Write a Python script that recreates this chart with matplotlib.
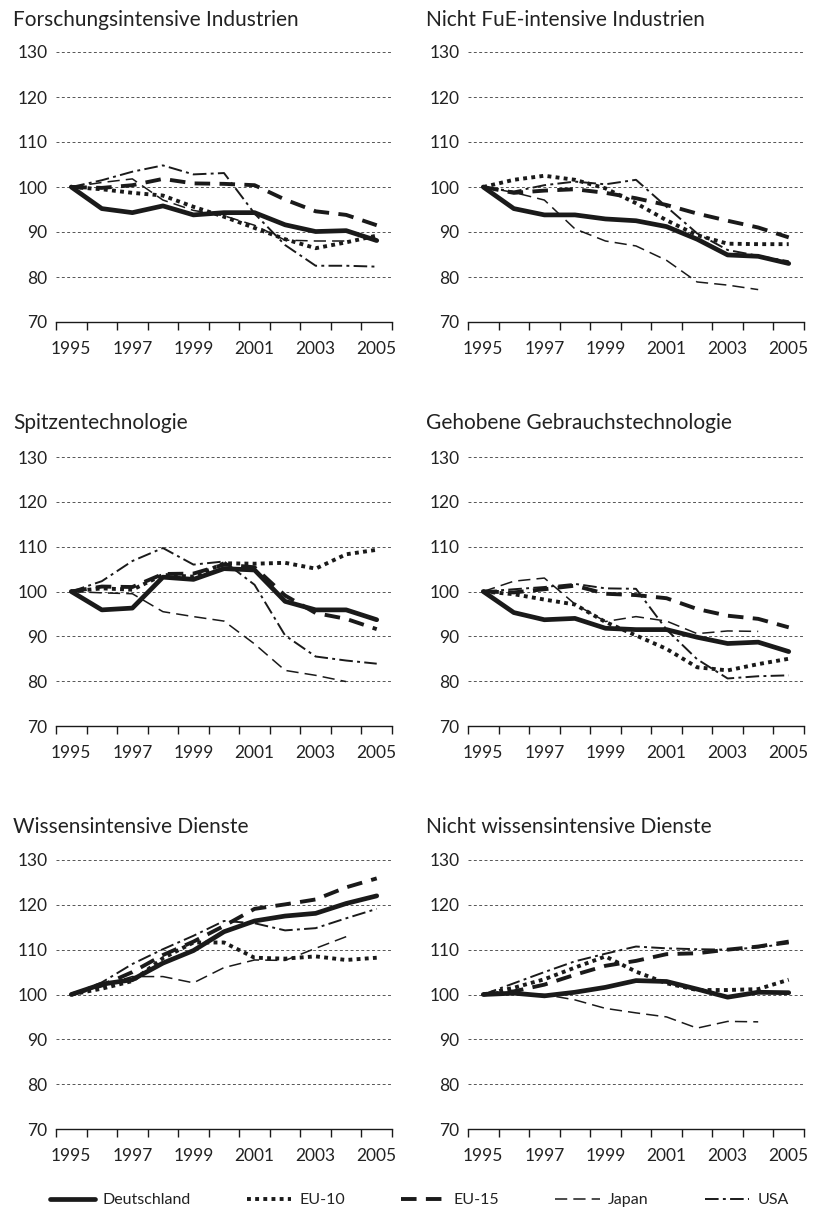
import matplotlib
matplotlib.use('Agg')
import matplotlib.pyplot as plt
import numpy as np

plt.rcParams['font.family'] = ['Lato', 'DejaVu Sans']

years = list(range(1995, 2006))
year_labels = ['1995', '1997', '1999', '2001', '2003', '2005']
series_names = ['Deutschland', 'EU-10', 'EU-15', 'Japan', 'USA']
panel_titles = ['Forschungsintensive Industrien', 'Nicht FuE-intensive Industrien',
                'Spitzentechnologie', 'Gehobene Gebrauchstechnologie',
                'Wissensintensive Dienste', 'Nicht wissensintensive Dienste']

# index values 1995 = 100 (Japan only up to 2004 where it ends early)
forschung = {
    'Deutschland': [100, 95.2, 94.3, 95.8, 93.8, 94.3, 94.3, 91.6, 90.1, 90.3, 88.1],
    'EU-10': [100, 99.5, 98.7, 98.1, 95.6, 93.4, 90.9, 88.4, 86.4, 87.7, 89.2],
    'EU-15': [100, 99.8, 100.4, 101.8, 100.8, 100.7, 100.4, 97.2, 94.6, 93.8, 91.5],
    'Japan': [100, 101.0, 101.8, 97.1, 94.8, 93.6, 91.5, 88.2, 88.0, 88.0],
    'USA': [100, 101.5, 103.4, 104.8, 102.8, 103.1, 94.1, 87.1, 82.5, 82.5, 82.3],
}
nicht_fue = {
    'Deutschland': [100, 95.2, 93.8, 93.8, 92.9, 92.5, 91.2, 88.4, 84.9, 84.6, 83.0],
    'EU-10': [100, 101.6, 102.5, 101.6, 99.7, 96.4, 92.6, 89.3, 87.4, 87.3, 87.3],
    'EU-15': [100, 98.7, 99.2, 99.5, 98.7, 97.5, 96.0, 94.1, 92.5, 91.0, 88.8],
    'Japan': [100, 98.8, 97.1, 90.7, 88.0, 86.9, 83.7, 78.9, 78.2, 77.2],
    'USA': [100, 99.0, 100.4, 101.2, 100.6, 101.6, 95.6, 89.7, 86.0, 84.7, 83.5],
}
spitzen = {
    'Deutschland': [100, 95.9, 96.3, 103.2, 102.7, 105.1, 104.8, 97.8, 95.9, 95.9, 93.7],
    'EU-10': [100, 100.7, 100.4, 103.7, 103.3, 106.3, 106.2, 106.4, 105.1, 108.3, 109.3],
    'EU-15': [100, 101.1, 101.0, 103.9, 104.0, 106.0, 105.4, 99.1, 95.2, 93.9, 91.6],
    'Japan': [100, 99.7, 99.5, 95.5, 94.4, 93.4, 88.3, 82.4, 81.3, 79.9],
    'USA': [100, 102.3, 106.8, 109.7, 106.0, 106.7, 101.5, 90.2, 85.5, 84.6, 83.9],
}
gehobene = {
    'Deutschland': [100, 95.3, 93.7, 94.0, 91.8, 91.5, 91.5, 89.8, 88.4, 88.7, 86.6],
    'EU-10': [100, 99.4, 98.2, 97.1, 93.2, 90.2, 87.2, 83.1, 82.4, 83.8, 85.0],
    'EU-15': [100, 99.8, 100.5, 101.3, 99.5, 99.2, 98.5, 96.1, 94.6, 93.9, 92.0],
    'Japan': [100, 102.3, 103.0, 97.2, 93.3, 94.4, 93.4, 90.6, 91.2, 91.1],
    'USA': [100, 100.5, 101.0, 101.7, 100.7, 100.6, 91.5, 84.9, 80.6, 81.1, 81.3],
}
wissen = {
    'Deutschland': [100, 102.3, 103.3, 107.0, 109.8, 114.0, 116.4, 117.5, 118.1, 120.3, 122.0],
    'EU-10': [100, 101.3, 103.0, 108.1, 111.6, 111.6, 108.2, 108.0, 108.5, 107.7, 108.2],
    'EU-15': [100, 102.0, 105.0, 108.8, 111.8, 115.3, 119.1, 120.1, 121.2, 123.9, 125.9],
    'Japan': [100, 102.0, 104.0, 104.0, 102.6, 106.0, 107.7, 107.6, 110.3, 112.9],
    'USA': [100, 102.7, 106.8, 110.1, 113.1, 116.4, 115.9, 114.3, 114.8, 117.0, 119.1],
}
nicht_wissen = {
    'Deutschland': [100, 100.3, 99.7, 100.5, 101.6, 103.1, 102.9, 101.2, 99.4, 100.5, 100.4],
    'EU-10': [100, 101.5, 103.4, 106.0, 108.5, 105.1, 102.5, 101.0, 101.0, 101.2, 103.3],
    'EU-15': [100, 100.7, 102.2, 104.4, 106.4, 107.5, 109.0, 109.2, 110.0, 110.7, 111.8],
    'Japan': [100, 100.3, 100.0, 98.8, 96.9, 95.9, 95.0, 92.5, 94.0, 93.9],
    'USA': [100, 102.5, 105.0, 107.4, 109.1, 110.7, 110.3, 110.1, 110.0, 110.5, 111.4],
}
panels = [forschung, nicht_fue, spitzen, gehobene, wissen, nicht_wissen]

ink = '#1a1a1a'
styles = {
    'Deutschland': dict(lw=3.4, ls='-', solid_capstyle='round'),
    'EU-10': dict(lw=2.8, ls=(0, (1, 1.1))),
    'EU-15': dict(lw=2.8, ls=(0, (4, 2.4))),
    'Japan': dict(lw=1.1, ls=(0, (8, 4))),
    'USA': dict(lw=1.4, ls=(0, (7, 2.2, 1.5, 2.2))),
}

fig = plt.figure(figsize=(8.22, 12.26), dpi=100)

lefts = [56 / 822, 468 / 822]
rows = [(52, 322), (457, 726), (860, 1129)]
title_y = [20, 423, 827]
title_x = [13, 426]
W = 336 / 822

for k, data in enumerate(panels):
    r, c = divmod(k, 2)
    top, bot = rows[r]
    ax = fig.add_axes([lefts[c], 1 - bot / 1226, W, (bot - top) / 1226])
    for name in series_names:
        vals = data[name]
        x = np.arange(len(vals)) + 0.5
        ax.plot(x, vals, color=ink, **styles[name])
    ax.set_xlim(0, 11)
    ax.set_ylim(70, 130)
    ax.set_yticks(range(70, 131, 10))
    for y in range(80, 131, 10):
        ax.axhline(y, color='#555555', lw=0.7, ls=(0, (3, 2.5)), zorder=0)
    ax.set_xticks(range(0, 12))
    ax.set_xticklabels([])
    ax.set_xticks([0.5 + 2 * i for i in range(len(year_labels))], minor=True)
    ax.set_xticklabels(year_labels, minor=True)
    ax.tick_params(axis='x', which='major', length=6, width=1.0, color=ink, direction='out')
    ax.tick_params(axis='x', which='minor', length=0, pad=14, labelsize=12.5, labelcolor='#222222')
    ax.tick_params(axis='y', length=0, pad=6, labelsize=12.5, labelcolor='#222222')
    for s in ['top', 'right', 'left']:
        ax.spines[s].set_visible(False)
    ax.spines['bottom'].set_color(ink)
    ax.spines['bottom'].set_linewidth(1.0)
    fig.text(title_x[c] / 822, 1 - title_y[r] / 1226, panel_titles[k], fontsize=15,
             color='#222222', ha='left', va='center')

handles = [plt.Line2D([], [], color=ink, **styles[n]) for n in series_names]
fig.legend(handles, series_names, loc='center', bbox_to_anchor=(0.51, 1 - 1200 / 1226),
           ncol=5, frameon=False, fontsize=11.5, handlelength=2.8, columnspacing=3.5,
           handletextpad=0.5, labelcolor='#222222')

fig.savefig('out.png', dpi=100)
